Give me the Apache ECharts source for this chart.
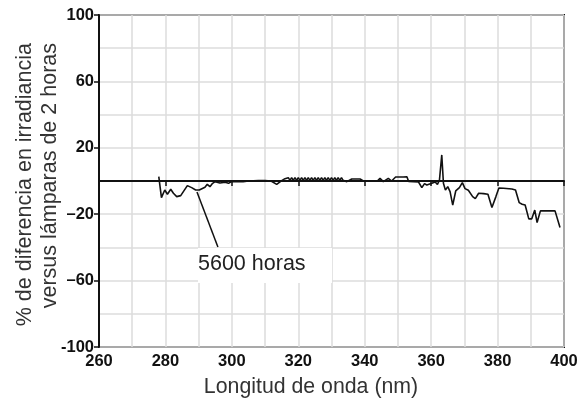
<!DOCTYPE html>
<html>
<head>
<meta charset="utf-8">
<script src="https://cdn.jsdelivr.net/npm/echarts@6/dist/echarts.min.js"></script>
<style>
  html, body { margin: 0; padding: 0; background: #fff; }
  #chart { width: 587px; height: 402px; }
</style>
</head>
<body>
<div id="chart"></div>
<script>
// longitud de onda (nm)
var wl = [278, 278.8, 279.8, 280.6, 281.6, 282.4, 283.4, 284.6, 286.6, 287.9,
  289.1, 290.2, 291.9, 292.6, 293.4, 294.2, 295, 296.4, 298, 299,
  300, 302, 302.6, 303.4, 305, 308, 310, 311.8, 313.5, 315, 316,
  316.5, 317, 317.5, 318, 318.5, 319, 319.5, 320, 320.5, 321, 321.5, 322,
  322.5, 323, 323.5, 324, 324.5, 325, 325.5, 326, 326.5, 327, 327.5, 328,
  328.5, 329, 329.5, 330, 330.5, 331, 331.5, 332, 332.5, 333, 333.5, 334,
  334.6, 336.1, 338.6, 339.6, 343.8, 344.6, 345.6, 347.1, 348.1, 349.3,
  351.6, 352.7, 353.2, 356.2, 357.2, 358, 358.7, 360.2, 361.2, 361.9,
  362.5, 363.2, 363.7, 364.3, 365, 365.7, 366.5, 367.4, 368.5, 369.4,
  370.2, 371.2, 372.5, 373.3, 374.3, 375.8, 377.1, 378.3, 379.5, 380.4,
  381.8, 384.3, 385.4, 386.5, 387.4, 388.3, 389.4, 390.3, 391.2, 391.9,
  392.9, 394.8, 397.3, 398.8];
// % de diferencia, lámparas de 5600 horas
var diff = [2.6, -10, -5.4, -8, -5, -7.4, -9.4, -8.8, -2.8, -4,
  -5.4, -5.4, -3.8, -2, -3.4, -1.4, -0.4, -1.2, -0.8, -1.4,
  -0.2, -0.4, -1, -0.4, 0, 0.2, 0.2, 0, -2, 0.2, 1.4,
  0.4, 2.0, 0.4, 2.0, 0.4, 2.0, 0.4, 2.0, 0.4, 2.0, 0.4, 2.0,
  0.4, 2.0, 0.4, 2.0, 0.4, 2.0, 0.4, 2.0, 0.4, 2.0, 0.4, 2.0,
  0.4, 2.0, 0.4, 2.0, 0.4, 2.0, 0.4, 2.0, 0.4, 2.0, 0.4, 1.4,
  -0.4, 1.2, 1.2, 0, 0, 1.6, -0.4, 1.6, 0, 2.4,
  2.4, 2.6, -0.2, -0.6, -4, -1.6, -2.4, -1.4, -0.6, -2,
  0.5, 15.7, -1.4, -5.5, -3.4, -6.4, -14.5, -6, -4, -1,
  -4.6, -5.6, -9.4, -10.6, -7.4, -7.6, -8, -16, -9.4, -4.2,
  -4.4, -4.8, -5.4, -13, -14, -14.5, -22.8, -22.8, -17.5, -25,
  -18, -18, -18, -28];

var xTicks = [260, 400, 20];   // min, max, paso
var yTicks = [-100, 100, 20];
var serieName = '5600 horas';
// línea guía hacia la curva
var guide = [[289.5, -6.6], [295.8, -39.8]];

var font = 'Liberation Sans, Arial, Helvetica, sans-serif';
var pts = [];
for (var i = 0; i < wl.length; i++) pts.push([wl[i], diff[i]]);

var chart = echarts.init(document.getElementById('chart'));
var option = {
  backgroundColor: '#fff',
  animation: false,
  grid: { left: 99, right: 23, top: 15, bottom: 55, show: true, borderColor: '#111', borderWidth: 2 },
  xAxis: {
    type: 'value', min: xTicks[0], max: xTicks[1], interval: xTicks[2],
    axisLine: { lineStyle: { color: '#111', width: 2 } },
    axisTick: { length: 5, lineStyle: { color: '#111', width: 1.5 } },
    axisLabel: { color: '#111', fontWeight: 'bold', fontSize: 16.5, fontFamily: font, margin: 6 },
    splitLine: { lineStyle: { color: '#dcdcdc', width: 1.5 } },
    minorTick: { show: false, splitNumber: 2 },
    minorSplitLine: { show: true, lineStyle: { color: '#dcdcdc', width: 1.5 } }
  },
  yAxis: [{
    type: 'value', min: yTicks[0], max: yTicks[1], interval: yTicks[2],
    axisLine: { show: false }, axisTick: { show: false }, axisLabel: { show: false },
    splitLine: { lineStyle: { color: '#dcdcdc', width: 1.5 } }
  }, {
    // eje desplazado +20 para que las marcas caigan en -100, -60, -20, 20, 60, 100
    type: 'value', position: 'left', min: -80, max: 120, interval: 40,
    axisLine: { show: true, lineStyle: { color: '#111', width: 2 } },
    axisTick: { show: true, length: 5, lineStyle: { color: '#111', width: 1.5 } },
    axisLabel: {
      color: '#111', fontWeight: 'bold', fontSize: 16.5, fontFamily: font, margin: 5,
      formatter: function (v) {
        var t = v - 20;
        if (t < 0) return (t === -100 ? '-' : '\u2013') + Math.abs(t);
        return String(t);
      }
    },
    splitLine: { show: false }
  }],
  series: [{
    name: serieName,
    type: 'line',
    yAxisIndex: 0,
    data: pts,
    showSymbol: false,
    lineStyle: { color: '#111', width: 1.6 },
    markLine: {
      silent: true, symbol: 'none', label: { show: false }, animation: false,
      data: [
        { yAxis: 0, lineStyle: { color: '#111', width: 2, type: 'solid' } },
        [{ coord: guide[0] }, { coord: guide[1] }]
      ],
      lineStyle: { color: '#111', width: 1.5, type: 'solid' }
    }
  }],
  graphic: [
    { type: 'rect', z: 5, shape: { x: 198, y: 248, width: 134, height: 35 }, style: { fill: '#fff' } },
    { type: 'text', z: 6, x: 198, y: 264, style: { text: serieName, fill: '#222', font: '21.5px ' + font, textAlign: 'left', textVerticalAlign: 'middle' } },
    { type: 'text', x: 311, y: 387, style: { text: 'Longitud de onda (nm)', fill: '#333', font: '21.3px ' + font, textAlign: 'center', textVerticalAlign: 'middle' } },
    { type: 'text', x: 37.5, y: 43, rotation: Math.PI / 2,
      style: { text: '% de diferencia en irradiancia\nversus lámparas de 2 horas', fill: '#333', font: '21.5px ' + font, lineHeight: 25, textAlign: 'right', textVerticalAlign: 'middle' } }
  ]
};
chart.setOption(option);
</script>
</body>
</html>
